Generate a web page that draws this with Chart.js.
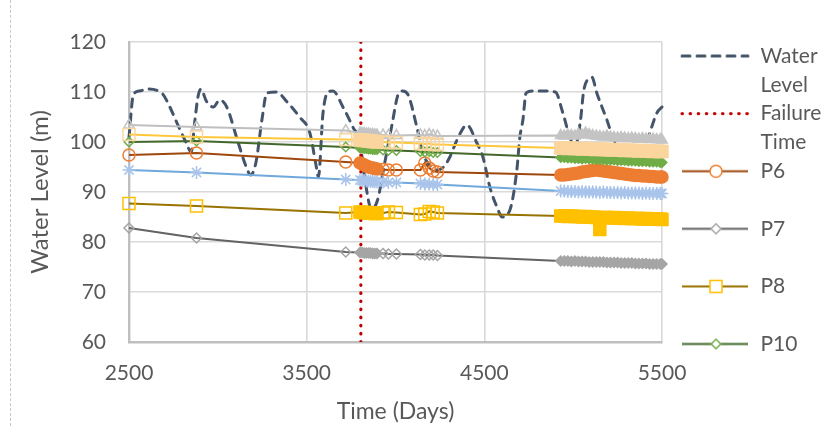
<!DOCTYPE html>
<html lang="en">
<head>
<meta charset="utf-8">
<title>Water Level vs Time</title>
<script src="https://cdn.jsdelivr.net/npm/chart.js@4.4.1/dist/chart.umd.min.js"></script>
<style>
  html, body { margin: 0; padding: 0; background: #fff; }
  #wrap { position: relative; width: 824px; height: 426px; }
  /* dashed chart border seen on the left edge */
  #wrap:before { content: ''; position: absolute; left: 10px; top: 0; bottom: 0; border-left: 1px dashed #c8c8c8; }
</style>
</head>
<body>
<div id="wrap">
  <canvas id="level-chart"></canvas>
</div>
<script>
  // water level (dashed curve)
  const waterDays = [2500, 2525, 2560, 2610, 2660, 2690, 2730, 2770, 2820, 2850, 2870, 2888, 2905, 2935, 2975, 3010, 3050, 3110, 3160, 3185, 3215, 3248, 3276, 3330, 3390, 3460, 3518, 3552, 3566, 3592, 3620, 3648, 3704, 3760, 3800, 3830, 3865, 3900, 3935, 3980, 4015, 4040, 4070, 4120, 4154, 4200, 4235, 4270, 4306, 4346, 4402, 4458, 4492, 4531, 4571, 4600, 4644, 4683, 4700, 4717, 4735, 4770, 4840, 4900, 4942, 4981, 5010, 5040, 5060, 5094, 5105, 5133, 5190, 5223, 5270, 5330, 5390, 5431, 5471, 5500];
  const waterLevel = [101, 109.5, 110.2, 110.6, 110.3, 109.6, 107, 103.8, 100, 98, 104, 109, 110.6, 108.2, 107, 108.4, 107, 100.4, 95, 93.4, 96, 104.4, 109.8, 110, 108, 105, 101.8, 95.5, 93, 105.8, 110, 110.2, 107, 103, 99.8, 92, 86.5, 88.5, 95, 103.4, 109.5, 110.2, 109.5, 103, 97.8, 95, 94.4, 95, 97, 100.4, 103.4, 99.8, 97, 91, 87, 85, 86.4, 94.4, 101, 104.4, 109.8, 110.2, 110.2, 110, 105.8, 101, 99, 104, 110.4, 112.8, 113, 109.8, 104.4, 101, 98, 96.5, 97.5, 101.8, 105.8, 107];

  const failureDay = 3805;

  // observation days shared by the piezometer series
  const obsDays = [2500, 2880, 3720,
    3800, 3812, 3824, 3836, 3848, 3860, 3872, 3884, 3896, 3930, 3960, 4005,
    4140, 4165, 4190, 4212, 4236,
    4930, 4950, 4970, 4990, 5010, 5030, 5050, 5070, 5090, 5110, 5130, 5150, 5170, 5190, 5210, 5230, 5250, 5270, 5290, 5310, 5330, 5350, 5370, 5390, 5410, 5430, 5450, 5470, 5490, 5500];

  const p6 = [97.4, 97.8, 96.0,
    95.8, 95.6, 95.4, 95.2, 95.0, 94.9, 94.8, 94.7, 94.6, 94.5, 94.4, 94.4,
    94.4, 95.8, 94.8, 94.2, 94.0,
    93.4, 93.4, 93.5, 93.6, 93.7, 93.8, 94.0, 94.1, 94.2, 94.3, 94.4, 94.3, 94.2, 94.1, 94.0, 93.9, 93.8, 93.7, 93.6, 93.5, 93.4, 93.3, 93.3, 93.2, 93.2, 93.1, 93.1, 93.0, 93.0, 93.0];
  const p7 = [82.8, 80.8, 78.0,
    77.9, 77.9, 77.8, 77.8, 77.8, 77.8, 77.7, 77.7, 77.7, 77.7, 77.6, 77.6,
    77.5, 77.4, 77.4, 77.4, 77.3,
    76.2, 76.2, 76.2, 76.1, 76.2, 76.1, 76.1, 76.1, 76.0, 76.0, 76.0, 76.0, 76.0, 75.9, 75.9, 75.9, 75.9, 75.8, 75.8, 75.8, 75.8, 75.7, 75.7, 75.7, 75.7, 75.6, 75.6, 75.6, 75.6, 75.6];
  const p8 = [87.7, 87.2, 85.8,
    86.0, 85.9, 85.9, 85.9, 85.8, 85.8, 85.8, 85.7, 85.7, 85.8, 86.0, 85.9,
    85.5, 85.6, 86.1, 86.0, 85.8,
    85.2, 85.2, 85.1, 85.2, 85.1, 85.1, 85.0, 85.1, 85.0, 85.0, 84.9, 82.5, 84.9, 84.9, 84.8, 84.9, 84.8, 84.8, 84.7, 84.8, 84.7, 84.7, 84.7, 84.6, 84.7, 84.6, 84.6, 84.6, 84.6, 84.5];
  const p10 = [100.0, 100.2, 99.0,
    98.8, 98.8, 98.7, 98.7, 98.6, 98.6, 98.5, 98.5, 98.5, 98.4, 98.3, 98.3,
    98.1, 98.0, 98.1, 97.9, 97.9,
    96.9, 96.9, 96.8, 96.8, 96.7, 96.7, 96.6, 96.7, 96.6, 96.6, 96.5, 96.5, 96.5, 96.4, 96.4, 96.4, 96.3, 96.3, 96.3, 96.2, 96.2, 96.2, 96.1, 96.1, 96.1, 96.0, 96.0, 96.0, 95.9, 95.9];
  // series whose legend entries are cut off in the original
  const p11 = [103.4, 103.0, 102.3,
    101.8, 101.7, 101.7, 101.6, 101.6, 101.5, 101.5, 101.4, 101.4, 101.4, 101.3, 101.3,
    101.4, 101.3, 101.5, 101.3, 101.2,
    101.3, 101.2, 101.4, 101.3, 101.2, 101.6, 101.4, 101.8, 101.5, 101.3, 101.2, 101.1, 101.0, 101.2, 101.0, 100.9, 100.8, 100.9, 100.8, 100.7, 100.8, 100.7, 100.6, 100.7, 100.6, 100.5, 100.6, 100.5, 100.5, 100.4];
  const p12 = [101.5, 101.0, 100.5,
    100.4, 100.4, 100.3, 100.3, 100.2, 100.2, 100.1, 100.1, 100.0, 100.0, 99.9, 99.9,
    99.7, 99.6, 99.7, 99.5, 99.5,
    98.8, 98.8, 98.7, 98.8, 98.7, 98.7, 98.6, 98.7, 98.6, 98.6, 98.5, 98.6, 98.5, 98.5, 98.4, 98.5, 98.4, 98.4, 98.3, 98.4, 98.3, 98.3, 98.2, 98.3, 98.2, 98.2, 98.1, 98.2, 98.1, 98.1];
  const p13 = [94.4, 93.9, 92.5,
    92.4, 92.3, 92.3, 92.2, 92.2, 92.1, 92.1, 92.0, 92.0, 92.0, 91.9, 91.9,
    91.7, 91.6, 91.6, 91.5, 91.5,
    90.2, 90.2, 90.1, 90.1, 90.1, 90.0, 90.1, 90.0, 90.0, 90.0, 90.0, 89.9, 90.0, 89.9, 89.9, 89.9, 89.9, 89.8, 89.9, 89.8, 89.8, 89.8, 89.8, 89.7, 89.8, 89.7, 89.7, 89.7, 89.7, 89.7];

  const xTicks = [2500, 3500, 4500, 5500];
  const yTicks = [60, 70, 80, 90, 100, 110, 120];

  const FONT = 'Lato, "Open Sans", sans-serif';
  const TEXT = '#595959';

  function pairs(days, vals) {
    return days.map((d, i) => ({ x: d, y: vals[i] }));
  }

  // markers packed closely together merge into a solid band
  function isDense(i) {
    const prev = i > 0 ? obsDays[i] - obsDays[i - 1] : Infinity;
    const next = i < obsDays.length - 1 ? obsDays[i + 1] - obsDays[i] : Infinity;
    return Math.min(prev, next) <= 20;
  }

  function piezo(label, vals, line, marker, style, radius, order, inLegend) {
    return {
      label: label,
      legendText: [label, ''],
      inLegend: inLegend,
      data: pairs(obsDays, vals),
      borderColor: line,
      borderWidth: 2.2,
      pointStyle: style,
      pointRadius: radius,
      pointBorderColor: marker,
      pointBackgroundColor: (ctx) => isDense(ctx.dataIndex) ? marker : 'rgba(255,255,255,0)',
      pointBorderWidth: 1.5,
      tension: 0,
      order: order,
      clip: false
    };
  }

  // small line + marker picture for the legend
  function legendIcon(ds) {
    const c = document.createElement('canvas');
    c.width = 88;
    c.height = 21;
    const g = c.getContext('2d');
    g.strokeStyle = ds.borderColor;
    g.lineWidth = ds.borderWidth;
    g.lineCap = ds.borderCapStyle || 'butt';
    g.setLineDash(ds.borderDash || []);
    g.beginPath();
    g.moveTo(20, 10.5);
    g.lineTo(86, 10.5);
    g.stroke();
    if (ds.pointRadius > 0) {
      const r = ds.pointRadius, cx = 54, cy = 10.5;
      g.setLineDash([]);
      g.fillStyle = '#fff';
      g.strokeStyle = ds.pointBorderColor;
      g.lineWidth = ds.pointBorderWidth;
      g.beginPath();
      if (ds.pointStyle === 'circle') {
        g.arc(cx, cy, r, 0, Math.PI * 2);
      } else if (ds.pointStyle === 'rect') {
        const s = r * Math.SQRT1_2;
        g.rect(cx - s, cy - s, 2 * s, 2 * s);
      } else {
        g.moveTo(cx - r, cy); g.lineTo(cx, cy - r); g.lineTo(cx + r, cy); g.lineTo(cx, cy + r); g.closePath();
      }
      g.fill();
      g.stroke();
    }
    return c;
  }

  const datasets = [
    {
      label: 'Water Level',
      legendText: ['Water', 'Level'],
      inLegend: true,
      data: pairs(waterDays, waterLevel),
      borderColor: '#44546A',
      borderWidth: 3,
      borderDash: [8, 7],
      borderCapStyle: 'round',
      pointRadius: 0,
      cubicInterpolationMode: 'monotone',
      order: 20,
      clip: false
    },
    {
      label: 'Failure Time',
      legendText: ['Failure', 'Time'],
      inLegend: true,
      data: [{ x: failureDay, y: 60 }, { x: failureDay, y: 120 }],
      borderColor: '#C00000',
      borderWidth: 3.2,
      borderDash: [0.5, 7.6],
      borderCapStyle: 'round',
      pointRadius: 0,
      order: 19
    },
    piezo('P6', p6, '#9E480E', '#ED7D31', 'circle', 6, 8, true),
    piezo('P7', p7, '#636363', '#A5A5A5', 'rectRot', 5, 7, true),
    piezo('P8', p8, '#997300', '#FFC000', 'rect', 8.5, 6, true),
    piezo('P10', p10, '#43682B', '#70AD47', 'rectRot', 4.8, 5, true),
    piezo('P11', p11, '#BFBFBF', '#C4C4C4', 'triangle', 6, 4, false),
    piezo('P12', p12, '#FFC83A', '#FBD59E', 'rect', 8.5, 3, false),
    piezo('P13', p13, '#6FA8DC', '#A9C4EB', 'star', 6.5, 2, false)
  ];

  const config = {
    type: 'line',
    data: { datasets: datasets },
    options: {
      responsive: true,
      maintainAspectRatio: false,
      animation: false,
      layout: { padding: { top: 42, right: 0, bottom: 0, left: 0 } },
      plugins: {
        tooltip: { enabled: false },
        legend: {
          position: 'right',
          align: 'start',
          maxWidth: 162,
          title: { display: true, text: '', font: { size: 1, lineHeight: 1 }, padding: { top: 2.5, bottom: 0 } },
          labels: {
            usePointStyle: true,
            pointStyleWidth: 88,
            padding: 0,
            color: TEXT,
            font: { family: FONT, size: 21, lineHeight: '28.8px' },
            filter: (item, data) => data.datasets[item.datasetIndex].inLegend,
            sort: (a, b) => a.datasetIndex - b.datasetIndex,
            generateLabels: (chart) => {
              const items = Chart.defaults.plugins.legend.labels.generateLabels(chart);
              return items.map(item => {
                const ds = chart.data.datasets[item.datasetIndex];
                item.text = ds.legendText;
                item.pointStyle = legendIcon(ds);
                return item;
              });
            }
          }
        }
      },
      scales: {
        x: {
          type: 'linear',
          min: xTicks[0],
          max: xTicks[xTicks.length - 1],
          afterBuildTicks: (s) => { s.ticks = xTicks.map(v => ({ value: v })); },
          afterFit: (s) => { s.height = 84; },
          grid: { color: '#D9D9D9', lineWidth: 1.6, drawTicks: false },
          border: { color: '#BFBFBF', width: 2.4 },
          ticks: { color: TEXT, font: { family: FONT, size: 21 }, padding: 19, maxRotation: 0, callback: (v) => String(v) },
          title: { display: true, text: 'Time (Days)', color: TEXT, font: { family: FONT, size: 23 }, padding: { top: 0, bottom: 1 } }
        },
        y: {
          min: yTicks[0],
          max: yTicks[yTicks.length - 1],
          afterBuildTicks: (s) => { s.ticks = yTicks.map(v => ({ value: v })); },
          afterFit: (s) => { s.width = 129; },
          grid: { color: '#D9D9D9', lineWidth: 1.6, drawTicks: false },
          border: { color: '#BFBFBF', width: 2.4 },
          ticks: { color: TEXT, font: { family: FONT, size: 21 }, padding: 23, callback: (v) => String(v) },
          title: { display: true, text: 'Water Level (m)', color: TEXT, font: { family: FONT, size: 24 }, padding: { top: 26, bottom: 0 } }
        }
      }
    }
  };

  new Chart(document.getElementById('level-chart'), config);
</script>
</body>
</html>
